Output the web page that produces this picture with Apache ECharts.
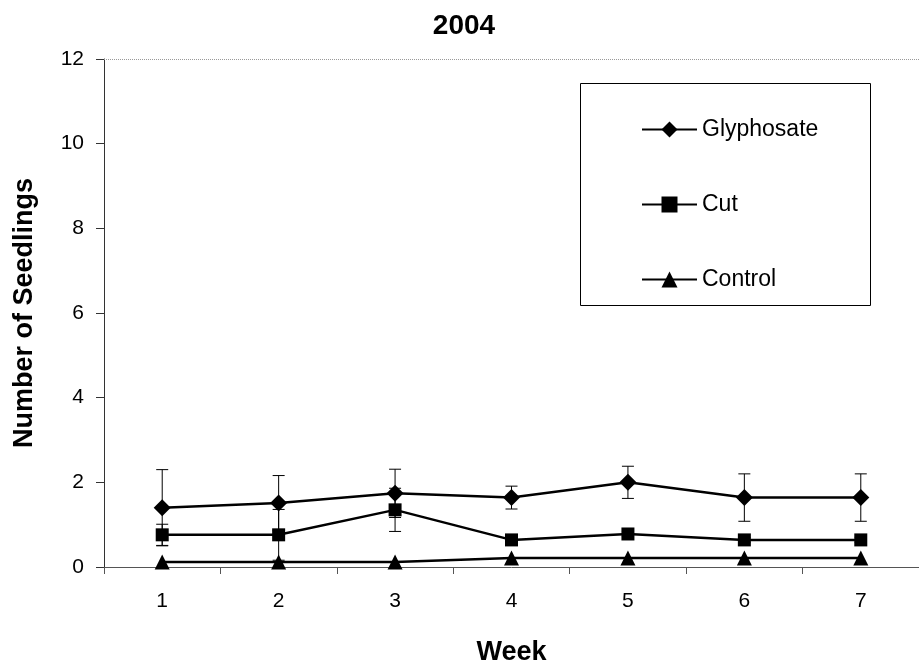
<!DOCTYPE html>
<html>
<head>
<meta charset="utf-8">
<script src="https://cdn.jsdelivr.net/npm/echarts@6/dist/echarts.min.js"></script>
<style>
  html, body { margin: 0; padding: 0; background: #fff; }
  #chart { width: 919px; height: 671px; }
</style>
</head>
<body>
<div id="chart"></div>
<script>
// weeks on the x axis
const weeks = ["1", "2", "3", "4", "5", "6", "7"];

// mean number of seedlings per treatment
const glyphosate = [1.40, 1.51, 1.74, 1.64, 2.00, 1.64, 1.64];
const cut = [0.76, 0.76, 1.35, 0.64, 0.78, 0.64, 0.64];
const control = [0.12, 0.12, 0.12, 0.21, 0.21, 0.21, 0.21];

// error bar half widths
const glyphosateErr = [0.90, 0.65, 0.57, 0.27, 0.38, 0.56, 0.56];
const cutErr = [0.25, 0.60, 0.51, 0.06, 0.06, 0.06, 0.06];

const yTicks = [0, 2, 4, 6, 8, 10, 12];

const FONT = "Liberation Sans, Arial, sans-serif";

document.addEventListener("DOMContentLoaded", function () {
    const chart = echarts.init(document.getElementById("chart"));

    // turn mean + err into [x, low, high]
    const errData = (vals, errs) =>
        vals.map((v, i) => [i, v - errs[i], v + errs[i]]);

    // draws a vertical bar with caps
    const renderErr = (params, api) => {
        const lo = api.coord([api.value(0), api.value(1)]);
        const hi = api.coord([api.value(0), api.value(2)]);
        const cap = 6;
        const style = { stroke: "#000", lineWidth: 1 };
        return {
            type: "group",
            children: [
                { type: "line", shape: { x1: lo[0], y1: lo[1], x2: hi[0], y2: hi[1] }, style },
                { type: "line", shape: { x1: lo[0] - cap, y1: lo[1], x2: lo[0] + cap, y2: lo[1] }, style },
                { type: "line", shape: { x1: hi[0] - cap, y1: hi[1], x2: hi[0] + cap, y2: hi[1] }, style },
            ],
        };
    };

    const lineSeries = (name, data, symbol, size) => ({
        name: name,
        type: "line",
        data: data,
        symbol: symbol,
        symbolSize: size,
        z: 3,
        lineStyle: { color: "#000", width: 2.5 },
        itemStyle: { color: "#000" },
        emphasis: { disabled: true },
        animation: false,
    });

    chart.setOption({
        animation: false,
        title: {
            text: "2004",
            left: 459,
            textAlign: "center",
            top: 7,
            textStyle: { fontFamily: FONT, fontSize: 28, fontWeight: "bold", color: "#000" },
        },
        grid: { left: 104, right: 0, top: 59, bottom: 102 },
        legend: {
            data: ["Glyphosate", "Cut", "Control"],
            orient: "vertical",
            left: 636,
            top: 113,
            itemWidth: 55,
            itemHeight: 20,
            itemGap: 52,
            textStyle: { fontFamily: FONT, fontSize: 23, color: "#000" },
        },
        graphic: [
            {
                type: "rect",
                shape: { x: 580.5, y: 83.5, width: 290, height: 222 },
                style: { fill: "none", stroke: "#000", lineWidth: 1 },
                z: 1,
            },
        ],
        xAxis: {
            type: "category",
            data: weeks,
            boundaryGap: true,
            name: "Week",
            nameLocation: "middle",
            nameGap: 72,
            nameTextStyle: { fontFamily: FONT, fontSize: 27, fontWeight: "bold", color: "#000" },
            axisLine: { lineStyle: { color: "#555", width: 1 } },
            axisTick: { show: true, length: 7, lineStyle: { color: "#555" } },
            axisLabel: { fontFamily: FONT, fontSize: 21, color: "#000", margin: 24 },
            splitLine: { show: false },
        },
        yAxis: {
            type: "value",
            min: 0,
            max: 12,
            interval: 2,
            name: "Number of Seedlings",
            nameLocation: "middle",
            nameGap: 66,
            nameTextStyle: { fontFamily: FONT, fontSize: 27, fontWeight: "bold", color: "#000" },
            axisLine: { show: true, lineStyle: { color: "#333", width: 1 } },
            axisTick: { show: true, length: 8, lineStyle: { color: "#333" } },
            axisLabel: {
                fontFamily: FONT,
                fontSize: 21,
                color: "#000",
                margin: 20,
                formatter: (v) => (yTicks.includes(v) ? String(v) : ""),
            },
            splitLine: { show: false },
        },
        series: [
            {
                type: "custom",
                renderItem: renderErr,
                data: errData(glyphosate, glyphosateErr),
                z: 2,
                silent: true,
            },
            {
                type: "custom",
                renderItem: renderErr,
                data: errData(cut, cutErr),
                z: 2,
                silent: true,
            },
            Object.assign(lineSeries("Glyphosate", glyphosate, "diamond", 17), {
                // dotted line along the top of the plot area
                markLine: {
                    silent: true,
                    symbol: "none",
                    label: { show: false },
                    lineStyle: { color: "#999", type: "dotted", width: 1 },
                    data: [{ yAxis: 12 }],
                },
            }),
            lineSeries("Cut", cut, "rect", 13),
            lineSeries("Control", control, "triangle", 15),
        ],
    });
});
</script>
</body>
</html>
